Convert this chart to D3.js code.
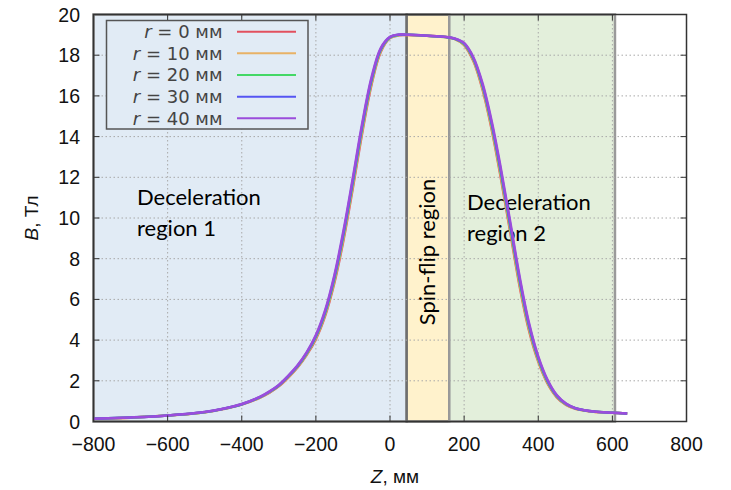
<!DOCTYPE html>
<html>
<head>
<meta charset="utf-8">
<script src="https://cdn.jsdelivr.net/npm/d3@7"></script>
<style>
  body { margin: 0; background: #fff; }
  svg { display: block; }
</style>
</head>
<body>
<svg id="chart" width="731" height="490"></svg>
<script>
// z positions along the axis, mm
const zMm = [-800, -700, -600, -500, -450, -400, -350, -325, -300, -275, -250, -225, -200, -175, -150, -125, -100, -75, -50, -25,
    0, 25, 50, 100, 150, 175, 200, 225, 250, 275, 300, 325, 350, 375, 400, 425, 450, 475, 500, 525, 550, 600, 640];

// field B, T, one array per radius
const bR0 = [0.13, 0.19, 0.29, 0.45, 0.61, 0.83, 1.18, 1.42, 1.73, 2.15, 2.64, 3.26, 4.05, 5.19, 6.82, 8.96, 11.50, 14.18, 16.54, 18.16,
    18.84, 18.98, 18.99, 18.95, 18.89, 18.79, 18.50, 17.71, 16.29, 14.29, 11.87, 9.24, 6.62, 4.47, 2.94, 1.87, 1.19, 0.82, 0.63, 0.54, 0.48, 0.43, 0.39];
const bR10 = [0.13, 0.19, 0.29, 0.46, 0.62, 0.84, 1.19, 1.44, 1.75, 2.17, 2.67, 3.30, 4.10, 5.26, 6.92, 9.08, 11.63, 14.30, 16.63, 18.21,
    18.86, 18.99, 18.99, 18.95, 18.89, 18.80, 18.53, 17.76, 16.37, 14.39, 11.99, 9.37, 6.74, 4.57, 3.01, 1.92, 1.22, 0.84, 0.64, 0.54, 0.48, 0.43, 0.39];
const bR20 = [0.13, 0.20, 0.30, 0.46, 0.62, 0.85, 1.20, 1.45, 1.77, 2.20, 2.70, 3.33, 4.15, 5.33, 7.01, 9.20, 11.75, 14.42, 16.72, 18.26,
    18.87, 19.00, 19.00, 18.95, 18.89, 18.80, 18.55, 17.81, 16.45, 14.50, 12.11, 9.50, 6.86, 4.66, 3.07, 1.96, 1.25, 0.85, 0.65, 0.55, 0.49, 0.43, 0.39];
const bR30 = [0.13, 0.20, 0.30, 0.47, 0.63, 0.85, 1.21, 1.47, 1.78, 2.22, 2.72, 3.37, 4.20, 5.40, 7.11, 9.31, 11.88, 14.54, 16.81, 18.30,
    18.89, 19.01, 19.00, 18.96, 18.90, 18.81, 18.58, 17.85, 16.52, 14.60, 12.23, 9.62, 6.98, 4.76, 3.14, 2.01, 1.27, 0.87, 0.65, 0.55, 0.49, 0.43, 0.39];
const bR40 = [0.13, 0.20, 0.30, 0.47, 0.63, 0.86, 1.22, 1.48, 1.80, 2.24, 2.75, 3.40, 4.25, 5.47, 7.20, 9.43, 12.00, 14.66, 16.90, 18.35,
    18.90, 19.02, 19.00, 18.96, 18.90, 18.82, 18.60, 17.90, 16.60, 14.70, 12.35, 9.75, 7.10, 4.85, 3.20, 2.05, 1.30, 0.88, 0.66, 0.55, 0.49, 0.43, 0.39];

const seriesNames = ["0", "10", "20", "30", "40"];
const seriesValues = [bR0, bR10, bR20, bR30, bR40];
const seriesColors = ["#e2505e", "#e8b266", "#44d866", "#5555f2", "#9b4ddb"];

const xTicks = [-800, -600, -400, -200, 0, 200, 400, 600, 800];
const yTicks = [0, 2, 4, 6, 8, 10, 12, 14, 16, 18, 20];

// regions along z, mm
const regionNames = ["Deceleration region 1", "Spin-flip region", "Deceleration region 2"];
const regionStart = [-800, 45, 160];
const regionEnd = [45, 160, 607];
const regionFill = ["#e1ebf5", "#fff2cc", "#e3efdb"];
const regionStroke = ["#8a8a8a", "#6e6e6e", "#9a9a9a"];

class d3_fieldchart {
    constructor(svgel) {
        this.svg = d3.select(svgel);
        this.x = d3.scaleLinear().domain([-800, 800]).range([93.5, 686.5]);
        this.y = d3.scaleLinear().domain([0, 20]).range([421.5, 14.5]);
        this.font = "'Liberation Sans', Arial, sans-serif";
        this.rebuild();
    }

    rebuild() {
        const x = this.x, y = this.y, svg = this.svg, font = this.font;
        const [x0, x1] = x.range();
        const [y0, y1] = y.range();

        // shaded regions
        svg.selectAll(".region")
            .data(regionStart.map((s, i) => ({ s: s, e: regionEnd[i], i: i })))
            .enter().append("rect")
            .attr("class", "region")
            .attr("x", d => x(d.s))
            .attr("y", y1)
            .attr("width", d => x(d.e) - x(d.s))
            .attr("height", y0 - y1)
            .attr("fill", d => regionFill[d.i])
            .attr("stroke", d => regionStroke[d.i])
            .attr("stroke-width", 2.5);

        // grid
        const grid = svg.append("g")
            .attr("stroke", "#a8a8a8")
            .attr("stroke-width", 1)
            .attr("stroke-dasharray", "1.5,2.5");
        grid.selectAll(".gx")
            .data(xTicks.slice(1, -1))
            .enter().append("line")
            .attr("x1", d => x(d)).attr("x2", d => x(d))
            .attr("y1", y0).attr("y2", y1);
        grid.selectAll(".gy")
            .data(yTicks.slice(1, -1))
            .enter().append("line")
            .attr("x1", x0).attr("x2", x1)
            .attr("y1", d => y(d)).attr("y2", d => y(d));

        // region labels
        const lab = svg.append("g")
            .style("font", "22px Lato, 'Open Sans', sans-serif")
            .attr("fill", "#000");
        const t1 = lab.append("text").attr("x", 137).attr("y", 205);
        t1.append("tspan").attr("x", 137).text("Deceleration");
        t1.append("tspan").attr("x", 137).attr("dy", 31).text("region 1");
        const t3 = lab.append("text").attr("x", 467).attr("y", 210);
        t3.append("tspan").attr("x", 467).text("Deceleration");
        t3.append("tspan").attr("x", 467).attr("dy", 31).text("region 2");
        lab.append("text")
            .attr("transform", `translate(${(x(regionStart[1]) + x(regionEnd[1])) / 2 + 7},252) rotate(-90)`)
            .attr("text-anchor", "middle")
            .text(regionNames[1]);

        // curves
        const line = d3.line()
            .x((d, i) => x(zMm[i]))
            .y(d => y(d))
            .curve(d3.curveCatmullRom.alpha(0.5));
        svg.append("g").selectAll("path")
            .data(seriesValues)
            .enter().append("path")
            .attr("fill", "none")
            .attr("stroke", (d, i) => seriesColors[i])
            .attr("stroke-width", 2.5)
            .attr("d", line);

        // ticks, inward and mirrored
        const ticks = svg.append("g").attr("stroke", "#333").attr("stroke-width", 1);
        xTicks.forEach(t => {
            ticks.append("line").attr("x1", x(t)).attr("x2", x(t)).attr("y1", y0).attr("y2", y0 - 6);
            ticks.append("line").attr("x1", x(t)).attr("x2", x(t)).attr("y1", y1).attr("y2", y1 + 6);
        });
        yTicks.forEach(t => {
            ticks.append("line").attr("x1", x0).attr("x2", x0 + 6).attr("y1", y(t)).attr("y2", y(t));
            ticks.append("line").attr("x1", x1).attr("x2", x1 - 6).attr("y1", y(t)).attr("y2", y(t));
        });

        // frame
        svg.append("rect")
            .attr("x", x0).attr("y", y1)
            .attr("width", x1 - x0).attr("height", y0 - y1)
            .attr("fill", "none")
            .attr("stroke", "#333")
            .attr("stroke-width", 1.5);

        // tick labels
        const fmt = d => d < 0 ? "\u2212" + Math.abs(d) : String(d);
        svg.append("g").selectAll("text")
            .data(xTicks)
            .enter().append("text")
            .attr("x", d => x(d))
            .attr("y", 451)
            .attr("text-anchor", "middle")
            .style("font", "19.5px " + font)
            .attr("fill", "#111")
            .text(fmt);
        svg.append("g").selectAll("text")
            .data(yTicks)
            .enter().append("text")
            .attr("x", 80)
            .attr("y", d => y(d))
            .attr("dy", "0.36em")
            .attr("text-anchor", "end")
            .style("font", "19.5px " + font)
            .attr("fill", "#111")
            .text(fmt);

        // axis titles
        const xt = svg.append("text")
            .attr("x", 395).attr("y", 483)
            .attr("text-anchor", "middle")
            .style("font", "19px " + font)
            .attr("fill", "#111");
        xt.append("tspan").style("font-style", "italic").text("Z");
        xt.append("tspan").text(", мм");
        const yt = svg.append("text")
            .attr("transform", "translate(38,218) rotate(-90)")
            .attr("text-anchor", "middle")
            .style("font", "19px " + font)
            .attr("fill", "#111");
        yt.append("tspan").style("font-style", "italic").text("B");
        yt.append("tspan").text(", Тл");

        // legend
        const lg = svg.append("g");
        lg.append("rect")
            .attr("x", 106.5).attr("y", 20.5)
            .attr("width", 201.5).attr("height", 108.5)
            .attr("fill", regionFill[0])
            .attr("stroke", "#555")
            .attr("stroke-width", 1.5);
        const rows = lg.selectAll(".row")
            .data(seriesNames)
            .enter().append("g")
            .attr("transform", (d, i) => `translate(0,${31.7 + i * 21.65})`);
        rows.append("line")
            .attr("x1", 237).attr("x2", 296)
            .attr("stroke", (d, i) => seriesColors[i])
            .attr("stroke-width", 2);
        const lt = rows.append("text")
            .attr("x", 222.5)
            .attr("dy", "0.36em")
            .attr("text-anchor", "end")
            .style("font", "18px 'DejaVu Sans', sans-serif")
            .attr("fill", "#444");
        lt.append("tspan").style("font-style", "italic").text("r");
        lt.append("tspan").text(d => " = " + d + " мм");
    }
}

new d3_fieldchart(document.getElementById("chart"));
</script>
</body>
</html>
